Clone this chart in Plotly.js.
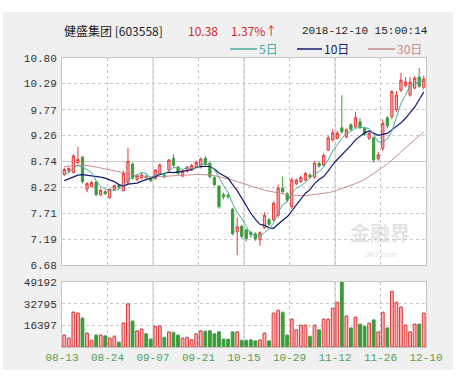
<!DOCTYPE html>
<html><head><meta charset="utf-8">
<script src="https://cdn.plot.ly/plotly-3.0.1.min.js"></script>
<style>
html,body{margin:0;padding:0;background:#fff;}
#wrap{position:relative;width:475px;height:377px;overflow:hidden;}
#panel{position:absolute;left:3px;top:12px;width:450px;height:358px;background:#f0f0f0;}
#chart{position:absolute;left:0;top:0;width:475px;height:377px;}
</style></head><body>
<div id="wrap"><div id="panel"></div><div id="chart"></div></div>
<script>
// ---- data ----
const dates = ['08-13','08-14','08-15','08-16','08-17','08-20','08-21','08-22','08-23','08-24',
'08-27','08-28','08-29','08-30','08-31','09-03','09-04','09-05','09-06','09-07',
'09-10','09-11','09-12','09-13','09-14','09-17','09-18','09-19','09-20','09-21',
'09-25','09-26','09-27','09-28','10-08','10-09','10-10','10-11','10-12','10-15',
'10-16','10-17','10-18','10-19','10-22','10-23','10-24','10-25','10-26','10-29',
'10-30','10-31','11-01','11-02','11-05','11-06','11-07','11-08','11-09','11-12',
'11-13','11-14','11-15','11-16','11-19','11-20','11-21','11-22','11-23','11-26',
'11-27','11-28','11-29','11-30','12-03','12-04','12-05','12-06','12-07','12-10'];

const open = [8.48,8.55,8.52,8.72,8.83,8.19,8.24,8.33,8.08,8.14,
8.02,8.19,8.26,8.16,8.32,8.69,8.38,8.41,8.45,8.40,
8.40,8.49,8.46,8.57,8.80,8.63,8.45,8.55,8.57,8.63,
8.63,8.80,8.70,8.42,8.25,8.08,8.07,7.79,7.34,7.45,
7.38,7.33,7.30,7.18,7.42,7.58,7.58,7.67,8.21,8.10,
7.84,8.30,8.34,8.37,8.47,8.43,8.70,8.67,8.97,9.17,
9.20,9.41,9.23,9.47,9.43,9.53,9.40,9.20,9.21,8.79,
9.00,9.61,9.63,9.77,10.16,10.25,10.06,10.20,10.42,10.22];
const high = [8.62,8.63,8.88,9.03,8.84,8.33,8.35,8.36,8.20,8.17,
8.21,8.28,8.28,8.56,9.01,8.72,8.49,8.52,8.48,8.42,
8.59,8.70,8.49,8.79,8.88,8.65,8.57,8.65,8.69,8.76,
8.82,8.85,8.74,8.45,8.27,8.12,8.10,7.82,7.62,7.48,
7.40,7.36,7.33,7.35,7.73,7.62,7.95,8.28,8.44,8.13,
8.42,8.40,8.46,8.53,8.50,8.74,8.74,8.90,9.25,9.38,
9.36,10.06,9.40,9.50,9.73,9.60,9.43,9.33,9.24,8.93,
9.58,9.64,10.16,10.14,10.50,10.42,10.42,10.44,10.60,10.45];
const low = [8.45,8.52,8.50,8.68,8.30,8.13,8.22,8.05,8.05,8.07,
8.00,8.16,8.19,8.14,8.28,8.38,8.35,8.39,8.40,8.33,
8.38,8.47,8.41,8.55,8.64,8.48,8.43,8.52,8.55,8.61,
8.60,8.65,8.40,8.25,7.80,7.99,8.00,7.27,6.88,7.20,
7.15,7.22,7.16,7.06,7.40,7.45,7.55,7.62,8.10,7.93,
7.80,8.27,8.31,8.35,8.40,8.40,8.62,8.64,8.95,9.14,
9.18,9.30,9.20,9.35,9.40,9.38,9.25,9.17,8.72,8.76,
8.95,9.40,9.58,9.73,10.12,10.22,10.03,10.18,10.21,10.18];
const close = [8.58,8.60,8.85,8.78,8.34,8.30,8.32,8.08,8.17,8.10,
8.19,8.26,8.23,8.50,8.74,8.41,8.46,8.47,8.42,8.36,
8.57,8.67,8.43,8.77,8.66,8.50,8.55,8.63,8.66,8.72,
8.79,8.68,8.44,8.28,7.84,8.04,8.04,7.30,7.44,7.25,
7.20,7.28,7.20,7.32,7.67,7.49,7.91,8.21,8.14,7.97,
8.37,8.37,8.42,8.50,8.43,8.71,8.65,8.86,9.21,9.31,
9.30,9.33,9.37,9.38,9.61,9.42,9.28,9.30,8.77,8.87,
9.50,9.45,10.13,10.06,10.36,10.32,10.32,10.40,10.24,10.38];
const volume = [8830,6560,26240,25480,21700,10340,4790,8830,8830,8330,
6560,7820,3280,17910,32550,19430,12110,13370,9840,5800,
15390,15900,7060,11350,10850,8830,6560,7060,5300,9840,
12110,11610,12110,9840,11350,5800,5800,11350,11350,4790,
4790,5300,4540,5300,10340,4540,25480,27500,25990,8830,
20940,12870,16400,16400,7820,16400,12870,20940,20940,29270,
33560,49192,23460,14380,22450,17160,15390,17910,20440,11350,
25990,14380,41880,33560,30020,16400,11350,17160,17160,25480];
const ma5 = [8.48,8.52,8.60,8.66,8.63,8.57,8.52,8.36,8.24,8.19,
8.17,8.16,8.19,8.26,8.38,8.43,8.47,8.52,8.50,8.42,
8.46,8.50,8.49,8.56,8.62,8.61,8.58,8.62,8.60,8.61,
8.67,8.70,8.66,8.58,8.41,8.26,8.13,7.90,7.73,7.61,
7.45,7.29,7.27,7.25,7.33,7.39,7.52,7.72,7.88,7.94,
8.12,8.21,8.25,8.33,8.42,8.49,8.54,8.63,8.77,8.95,
9.07,9.20,9.30,9.34,9.40,9.42,9.41,9.40,9.28,9.13,
9.14,9.18,9.34,9.60,9.90,10.06,10.24,10.29,10.33,10.33];
const ma10 = [8.36,8.40,8.44,8.47,8.48,8.47,8.46,8.45,8.43,8.41,
8.37,8.34,8.28,8.25,8.29,8.30,8.31,8.35,8.38,8.40,
8.44,8.48,8.50,8.53,8.52,8.53,8.54,8.56,8.58,8.62,
8.64,8.64,8.64,8.59,8.51,8.46,8.41,8.28,8.16,8.01,
7.85,7.71,7.59,7.49,7.47,7.42,7.41,7.50,7.57,7.64,
7.76,7.87,7.99,8.11,8.18,8.30,8.38,8.44,8.55,8.68,
8.78,8.87,8.97,9.06,9.17,9.24,9.31,9.35,9.31,9.26,
9.28,9.30,9.37,9.44,9.51,9.60,9.71,9.82,9.97,10.12];
const ma30 = [8.64,8.65,8.66,8.67,8.67,8.66,8.65,8.63,8.61,8.59,
8.57,8.55,8.53,8.51,8.49,8.47,8.45,8.44,8.43,8.43,
8.43,8.44,8.44,8.45,8.46,8.46,8.47,8.47,8.48,8.48,
8.48,8.48,8.47,8.46,8.44,8.42,8.40,8.37,8.34,8.31,
8.28,8.25,8.22,8.19,8.17,8.15,8.13,8.11,8.09,8.08,
8.07,8.06,8.06,8.06,8.07,8.08,8.09,8.10,8.12,8.14,
8.17,8.20,8.23,8.27,8.30,8.34,8.38,8.44,8.50,8.56,
8.62,8.69,8.77,8.85,8.93,9.01,9.09,9.17,9.25,9.33];

const xTickLabels = ['08-13','08-24','09-07','09-21','10-15','10-29','11-12','11-26','12-10'];
const priceTickLabels = ['6.68','7.19','7.71','8.22','8.74','9.26','9.77','10.29','10.80'];
const volTickLabels = ['16397','32795','49192'];

// ---- geometry / style ----
const L=62, R=426, T=58, B=347;
const px = x => (x-L)/(R-L), py = y => (B-y)/(B-T);
const RED='#e03a3a', PINK='#f6b4b4', GREEN='#3c9c3c';
const C5='#4fa9a1', C10='#17186e', C30='#c98d8d';
const GRID='#c8c8c8';

const xs = dates.map((d,i)=>i);
const xTickPos = xTickLabels.map((t,k)=>-0.5+10*k);
const up = close.map((c,i)=>c>=open[i]);

const traces = [
 {type:'candlestick', x:xs, open:open, high:high, low:low, close:close, text:dates,
  xaxis:'x', yaxis:'y', whiskerwidth:0,
  increasing:{line:{color:RED,width:1}, fillcolor:PINK},
  decreasing:{line:{color:GREEN,width:1}, fillcolor:GREEN}},
 {type:'scatter', mode:'lines', x:xs, y:ma30, xaxis:'x', yaxis:'y', line:{color:C30,width:1}, name:'30日'},
 {type:'scatter', mode:'lines', x:xs, y:ma10, xaxis:'x', yaxis:'y', line:{color:C10,width:1.2}, name:'10日'},
 {type:'scatter', mode:'lines', x:xs, y:ma5, xaxis:'x', yaxis:'y', line:{color:C5,width:1}, name:'5日'},
 {type:'bar', x:xs, y:volume, xaxis:'x', yaxis:'y2', width:0.62, text:dates,
  marker:{color:up.map(u=>u?PINK:GREEN), line:{color:up.map(u=>u?RED:GREEN), width:1}}}
];

const shapes = [];
[2,4,6].forEach(k=>{
  ['y domain','y2 domain'].forEach(yr=>shapes.push({type:'line', xref:'x', yref:yr,
    x0:xTickPos[k], x1:xTickPos[k], y0:0, y1:1, layer:'below', line:{color:GRID,width:1}}));
});
shapes.push({type:'line', xref:'x domain', yref:'y', x0:0, x1:1,
  y0:Number(priceTickLabels[4]), y1:Number(priceTickLabels[4]), layer:'below', line:{color:GRID,width:1}});
// legend lines
[[230,257,C5],[297,322,C10],[368,395,C30]].forEach(([a,b,c])=>shapes.push({type:'line',
  xref:'paper', yref:'paper', x0:px(a), x1:px(b), y0:py(49), y1:py(49), line:{color:c,width:1.5}}));

const ann = (x,y,text,size,color,family,extra) => Object.assign({xref:'paper', yref:'paper',
  x:px(x), y:py(y), text:text, showarrow:false, xanchor:'left', yanchor:'middle',
  font:{size:size, color:color, family:family}}, extra||{});
const CJK = 'Noto Sans CJK SC, sans-serif', MONO='Liberation Mono, monospace';
const annotations = [
  ann(62,31,'健盛集团 [603558]',12,'#222',CJK),
  ann(186,31,String(close[79].toFixed(2)),12,'#d02828',CJK),
  ann(229,31,'1.37%↑',12,'#d02828',CJK),
  ann(300,31,'2018-12-10 15:00:14',11,'#222',MONO),
  ann(257,49,'5日',12,C5,CJK),
  ann(322,49,'10日',12,C10,CJK),
  ann(395,49,'30日',12,C30,CJK),
  ann(380,232,'<b>金融界</b>',20,'rgba(175,175,175,0.35)',CJK,{xanchor:'center', borderpad:0}),
  ann(380,254,'JRJ.com',8,'rgba(175,175,175,0.45)','Liberation Sans',{xanchor:'center', borderpad:0})
];

const layout = {
  width:475, height:377,
  margin:{l:L, r:475-R, t:T, b:377-B, pad:0},
  paper_bgcolor:'rgba(0,0,0,0)', plot_bgcolor:'#ffffff',
  showlegend:false, hovermode:false,
  xaxis:{range:[-0.5,79.5], anchor:'y2', tickmode:'array', tickvals:xTickPos, ticktext:xTickLabels,
    showgrid:true, gridcolor:GRID, griddash:'dot', gridwidth:1, zeroline:false,
    showline:true, linecolor:'#c4c4c4', mirror:'all', ticks:'',
    tickfont:{family:MONO, size:11, color:'#55a055'}, rangeslider:{visible:false}, fixedrange:true},
  yaxis:{domain:[py(265),1], range:[6.68,10.80], tickmode:'array',
    tickvals:priceTickLabels.map(Number), ticktext:priceTickLabels,
    showgrid:true, gridcolor:GRID, griddash:'dot', zeroline:false,
    showline:true, linecolor:'#c4c4c4', mirror:true, ticks:'', ticklabelstandoff:2,
    tickfont:{family:MONO, size:11, color:'#333'}, fixedrange:true},
  yaxis2:{domain:[0,py(282)], range:[0,49192], tickmode:'array',
    tickvals:volTickLabels.map(Number), ticktext:volTickLabels,
    showgrid:true, gridcolor:GRID, griddash:'dot', zeroline:false,
    showline:true, linecolor:'#c4c4c4', mirror:true, ticks:'', ticklabelstandoff:2,
    tickfont:{family:MONO, size:11, color:'#333'}, fixedrange:true},
  shapes:shapes, annotations:annotations
};
Plotly.newPlot('chart', traces, layout, {displayModeBar:false, staticPlot:true});
</script></body></html>
